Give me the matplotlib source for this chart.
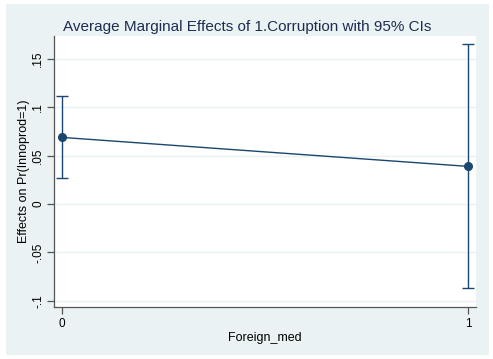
import matplotlib
matplotlib.use("Agg")
import matplotlib.pyplot as plt
from matplotlib.patches import Rectangle

categories = [0, 1]
margins = [0.069, 0.039]
ci_low = [0.027, -0.087]
ci_high = [0.1115, 0.1655]
yticks = [-0.1, -0.05, 0, 0.05, 0.1, 0.15]
ytick_labels = ["-.1", "-.05", "0", ".05", ".1", ".15"]

plt.rcParams['font.family'] = ['Liberation Sans', 'DejaVu Sans']
navy = '#1a476f'
bg = '#eaf2f3'

fig = plt.figure(figsize=(4.93, 3.59), dpi=100, facecolor='white')
fig.patches.append(Rectangle((6/493, 4/359), (489-6)/493, (355-4)/359,
                             transform=fig.transFigure, facecolor=bg, edgecolor='none', zorder=-10))
ax = fig.add_axes([54/493, 1-307/359, (476-54)/493, (307-36)/359])
ax.set_facecolor('white')

yerr = [[m - l for m, l in zip(margins, ci_low)], [h - m for m, h in zip(margins, ci_high)]]
ax.errorbar(categories, margins, yerr=yerr, color=navy, lw=1.0, elinewidth=1.0,
            capsize=4, capthick=1.0, marker='o', markersize=5.5, zorder=3)

ax.set_xlim(-0.0197, 1.0197)
ax.set_ylim(-0.1066, 0.174)
ax.set_yticks(yticks)
ax.set_yticklabels(ytick_labels, rotation=90, va='center')
ax.set_xticks(categories)
ax.set_xticklabels([str(c) for c in categories])
ax.grid(axis='y', color=bg, lw=1.0)
ax.set_axisbelow(True)
for s in ['top', 'right']:
    ax.spines[s].set_visible(False)
for s in ['left', 'bottom']:
    ax.spines[s].set_color('#555555')
    ax.spines[s].set_linewidth(0.9)
ax.tick_params(colors='#555555', labelcolor='black', labelsize=8.5, length=5, width=0.9)
ax.tick_params(axis='x', pad=3)
ax.tick_params(axis='y', pad=2)
ax.set_ylabel('Effects on Pr(Innoprod=1)', fontsize=9)
ax.yaxis.set_label_coords((30 - 54) / 422, 0.5)
ax.set_xlabel('Foreign_med', fontsize=9, labelpad=1)
fig.text(247/493, 1 - 31/359, 'Average Marginal Effects of 1.Corruption with 95% CIs',
         ha='center', va='baseline', fontsize=11, color='#1e2d4f')

fig.savefig('out.png', dpi=100, facecolor='white')
